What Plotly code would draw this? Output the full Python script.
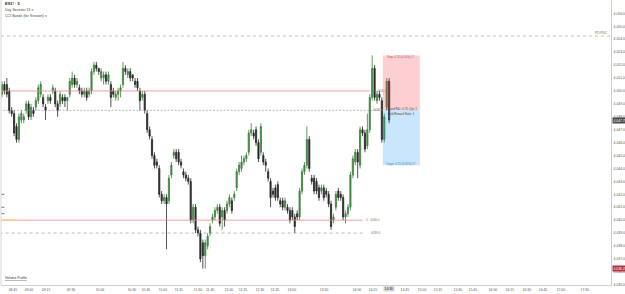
import plotly.graph_objects as go

# ---------------- data ----------------
opens = [4049.75,4050.5,4050.5,4050.0,4048.5,4048.25,4047.25,4046.25,4047.75,4047.75,
         4048.5,4049.0,4048.0,4048.5,4048.75,4049.25,4049.75,4049.5,4048.75,4049.25,
         4049.5,4050.0,4050.0,4049.0,4049.0,4049.5,4049.5,4049.25,4049.75,4050.5,
         4051.0,4050.5,4050.25,4050.0,4049.75,4050.0,4049.75,4050.0,4051.5,4052.0,
         4051.75,4051.0,4051.0,4051.25,4050.75,4050.5,4050.0,4049.5,4049.75,4050.0,
         4050.5,4051.75,4051.25,4051.5,4051.25,4050.75,4050.75,4050.0,4049.5,4049.75,
         4048.25,4047.0,4046.25,4045.0,4044.5,4044.0,4042.0,4041.5,4041.75,4041.5,
         4043.5,4045.0,4045.25,4045.25,4044.5,4043.75,4043.5,4043.25,4043.0,4040.0,
         4041.0,4039.25,4039.0,4038.25,4037.25,4038.0,4039.0,4040.0,4040.25,4040.75,
         4041.0,4040.25,4040.75,4040.75,4041.25,4041.5,4041.75,4042.5,4043.75,4044.0,
         4044.5,4044.75,4045.25,4046.75,4046.75,4047.0,4046.0,4045.25,4045.0,4044.5,
         4043.75,4043.0,4042.25,4042.5,4042.75,4041.5,4041.5,4041.0,4041.0,4040.75,
         4040.75,4040.25,4040.5,4040.25,4042.25,4043.75,4044.25,4046.25,4043.25,4043.25,
         4043.0,4042.5,4042.25,4042.5,4042.25,4042.0,4041.25,4040.0,4041.0,4042.25,
         4042.0,4041.75,4040.25,4040.5,4041.0,4043.5,4044.5,4045.25,4044.25,4047.0,
         4046.75,4045.75,4047.0,4049.5,4051.75,4049.25,4049.75,4049.25,4046.25,4048.75,
         4050.75]
highs = [4050.75,4050.75,4051.0,4050.25,4048.75,4048.5,4047.5,4048.25,4048.5,4048.25,
         4049.25,4049.25,4049.0,4048.75,4049.5,4050.5,4050.75,4049.75,4049.0,4049.75,
         4049.75,4050.5,4050.25,4049.25,4050.0,4049.75,4049.75,4049.5,4051.0,4051.5,
         4051.25,4051.0,4050.5,4050.25,4050.25,4050.25,4050.25,4051.75,4052.25,4052.25,
         4051.75,4051.75,4051.5,4051.5,4051.5,4050.75,4050.25,4050.0,4050.25,4050.5,
         4052.25,4052.0,4051.75,4051.75,4051.25,4051.0,4051.0,4050.25,4050.0,4050.0,
         4048.5,4047.25,4046.5,4045.25,4044.75,4044.25,4042.25,4042.0,4042.0,4043.5,
         4044.5,4045.5,4045.5,4045.5,4044.75,4044.0,4043.75,4043.5,4043.25,4041.25,
         4041.25,4039.5,4039.25,4038.5,4038.5,4039.0,4039.75,4040.5,4041.0,4041.25,
         4041.25,4041.0,4041.0,4041.5,4042.0,4041.75,4042.25,4044.0,4044.5,4045.0,
         4045.0,4045.25,4047.0,4047.5,4047.0,4047.25,4046.25,4047.5,4045.25,4044.75,
         4044.0,4043.25,4042.5,4042.75,4043.0,4041.75,4041.75,4041.75,4041.25,4041.0,
         4041.0,4040.5,4040.75,4042.5,4044.0,4044.5,4047.25,4046.5,4043.5,4043.5,
         4043.25,4042.75,4042.75,4042.75,4042.5,4042.25,4041.5,4040.5,4042.25,4042.5,
         4042.25,4042.0,4040.75,4041.25,4043.75,4045.0,4045.5,4045.5,4047.25,4047.25,
         4047.0,4048.25,4049.75,4052.75,4052.0,4050.0,4050.0,4049.5,4048.25,4051.0,
         4051.0]
lows = [4049.5,4049.75,4049.5,4048.25,4048.0,4046.5,4046.0,4046.0,4047.5,4047.5,
        4048.25,4047.75,4047.75,4048.0,4048.5,4049.0,4049.5,4048.75,4047.75,4049.0,
        4049.0,4049.75,4048.75,4048.0,4048.75,4049.0,4048.75,4048.5,4049.5,4050.25,
        4050.25,4050.25,4049.75,4049.5,4049.5,4049.25,4049.5,4049.75,4051.25,4051.5,
        4051.25,4050.75,4050.5,4050.5,4050.5,4048.75,4049.5,4049.25,4049.25,4049.5,
        4050.25,4051.25,4051.0,4050.75,4050.75,4050.25,4050.0,4048.5,4049.25,4048.25,
        4046.75,4046.25,4044.75,4044.0,4044.0,4041.75,4041.25,4041.25,4037.75,4041.25,
        4043.25,4044.75,4044.5,4044.25,4044.0,4043.25,4043.0,4042.75,4039.75,4039.75,
        4039.0,4038.75,4036.75,4036.25,4036.25,4037.75,4038.75,4039.75,4040.0,4040.5,
        4039.5,4039.25,4039.5,4040.5,4041.0,4040.5,4041.5,4042.25,4043.5,4043.75,
        4044.25,4044.5,4045.0,4046.5,4046.25,4045.75,4044.5,4045.0,4044.25,4043.75,
        4043.0,4041.0,4041.75,4041.5,4041.5,4041.0,4040.75,4040.75,4040.5,4039.75,
        4040.0,4039.0,4040.0,4040.0,4042.0,4043.5,4044.0,4043.75,4042.75,4042.0,
        4042.0,4041.5,4042.0,4041.5,4041.75,4041.0,4039.25,4039.75,4040.75,4041.5,
        4041.5,4040.0,4039.75,4040.25,4040.75,4043.25,4044.25,4043.25,4044.0,4046.5,
        4045.25,4045.5,4046.75,4049.25,4049.25,4049.0,4049.25,4046.0,4046.0,4048.5,
        4047.5]
closes = [4050.5,4050.0,4049.75,4048.5,4048.25,4046.75,4046.25,4048.0,4048.25,4048.0,
          4049.0,4048.0,4048.75,4048.25,4049.25,4050.25,4050.5,4049.0,4048.5,4049.5,
          4049.25,4050.25,4049.0,4048.5,4049.75,4049.25,4049.25,4049.5,4050.75,4051.0,
          4050.5,4050.75,4050.0,4049.75,4050.0,4049.5,4050.0,4051.5,4052.0,4051.75,
          4051.5,4051.5,4051.25,4050.75,4051.25,4049.5,4049.75,4049.75,4050.0,4050.25,
          4051.75,4051.5,4051.5,4051.0,4051.0,4050.5,4050.25,4049.25,4049.75,4048.5,
          4047.0,4046.5,4045.0,4044.25,4044.25,4042.0,4041.5,4041.75,4041.25,4043.25,
          4044.25,4045.25,4044.75,4044.5,4044.25,4043.5,4043.25,4043.0,4040.0,4041.0,
          4039.25,4039.0,4037.0,4037.25,4038.25,4038.75,4039.5,4040.25,4040.75,4041.0,
          4039.75,4040.75,4040.0,4041.25,4041.75,4040.75,4042.0,4043.75,4044.25,4044.5,
          4044.75,4045.0,4046.75,4047.0,4046.5,4046.0,4044.75,4047.25,4044.5,4044.25,
          4043.25,4041.75,4042.0,4041.75,4041.75,4041.25,4041.0,4041.5,4040.75,4040.0,
          4040.25,4039.5,4040.25,4042.25,4043.75,4044.25,4046.25,4044.0,4043.0,4042.25,
          4042.25,4041.75,4042.5,4041.75,4042.0,4041.25,4039.5,4040.25,4042.0,4041.75,
          4041.75,4040.25,4040.5,4041.0,4043.5,4044.75,4045.25,4044.5,4047.0,4046.75,
          4045.5,4047.0,4049.5,4051.75,4049.5,4049.75,4049.5,4046.25,4048.0,4050.75,
          4047.75]
bars = list(range(len(closes)))

price_ticks = [4057, 4056, 4055, 4054, 4053, 4052, 4051, 4050, 4049, 4048, 4047, 4046,
               4045, 4044, 4043, 4042, 4041, 4040, 4039, 4038, 4037, 4036, 4035]

time_tick_bars = [4.5, 11.2, 18.2, 28.5, 40.5, 53.7, 59.5, 66.5, 73.1, 81.0, 86.0, 93.8,
                  99.6, 106.6, 112.8, 119.8, 133.1, 146.7, 153.3, 166.5, 173.6, 180.2,
                  188.4, 194.6, 202.9, 209.9, 216.9, 223.6, 231.0, 240.9]
time_tick_labels = ["08:45", "09:00", "09:15", "09:30", "10:00", "10:30", "10:45", "11:00",
                    "11:15", "11:30", "11:45", "12:00", "12:15", "12:30", "12:45", "13:00",
                    "13:30", "14:00", "14:15", "14:45", "15:00", "15:15", "15:30", "15:45",
                    "16:00", "16:15", "16:30", "16:45", "17:00", "17:30"]
current_time_label = "14:30"

# horizontal levels
pd_close = 4054.25
upper_red_level, upper_red_end = 4050.0, 152
entry_level, entry_end = 4048.5, 157.4
lower_red_level, lower_red_end = 4040.0, 149
lower_dash_level, lower_dash_end = 4039.0, 150
stop_level, target_level = 4052.75, 4044.25
box_start, box_end = 157.4, 172.7
marker_price = 4036.25
left_marks = [4042.0, 4041.0, 4040.5]

# ---------------- figure ----------------
fig = go.Figure()
fig.add_trace(go.Candlestick(
    x=bars, open=opens, high=highs, low=lows, close=closes,
    increasing=dict(line=dict(color="#3b7f3b", width=0.8), fillcolor="#4a9647"),
    decreasing=dict(line=dict(color="#262626", width=0.8), fillcolor="#2b2b2b"),
    whiskerwidth=0, showlegend=False, hoverinfo="skip"))

shapes = []
def hline(y, x0, x1, color, dash="solid", width=0.7, xref="x"):
    shapes.append(dict(type="line", xref=xref, yref="y", x0=x0, x1=x1, y0=y, y1=y,
                       line=dict(color=color, width=width, dash=dash)))

hline(pd_close, 0, 1, "#a8a8a8", "dot", 0.7, xref="x domain")
hline(upper_red_level, -1, upper_red_end, "#e88a8a", "solid", 0.8)
hline(entry_level, -1, entry_end, "#8a8a8a", "2px,1.5px", 0.6)
hline(lower_red_level, -1, lower_red_end, "#e88a8a", "solid", 0.8)
hline(lower_dash_level, -1, lower_dash_end, "#8a8a8a", "dot", 0.6)
shapes.append(dict(type="line", xref="x", yref="y", x0=-1, x1=6, y0=lower_red_level,
                   y1=lower_red_level, line=dict(color="#f3d36b", width=1.2)))
for lm in left_marks:
    shapes.append(dict(type="line", xref="x", yref="y", x0=-1, x1=1, y0=lm, y1=lm,
                       line=dict(color="#555555", width=0.8)))
shapes.append(dict(type="rect", xref="x", yref="y", x0=box_start, x1=box_end,
                   y0=entry_level, y1=stop_level, fillcolor="rgba(242,54,69,0.24)",
                   line=dict(width=0), layer="above"))
shapes.append(dict(type="rect", xref="x", yref="y", x0=box_start, x1=box_end,
                   y0=target_level, y1=entry_level, fillcolor="rgba(33,150,243,0.24)",
                   line=dict(width=0), layer="above"))
shapes.append(dict(type="line", xref="paper", yref="paper", x0=0, x1=0, y0=0, y1=1,
                   line=dict(color="#d6d6d6", width=1)))

F = "Liberation Sans"
ann = []
def txt(x, y, s, size=3.2, color="#555555", xref="x", yref="y", xanchor="left",
        bg=None, yanchor="middle"):
    d = dict(x=x, y=y, xref=xref, yref=yref, text=s, showarrow=False, xanchor=xanchor,
             yanchor=yanchor, font=dict(family=F, size=size, color=color))
    if bg:
        d.update(bgcolor=bg, borderpad=0.6)
    ann.append(d)

# header
txt(0.003, 0.987, "<b>ES1! · 5</b>", 4, "#222222", "paper", "paper")
txt(0.003, 0.965, "Day Session 13 <span style='color:#888'>●</span>", 3.6, "#444444", "paper", "paper")
txt(0.003, 0.944, "CCI Bands (for Session) <span style='color:#888'>●</span>", 3.6, "#444444", "paper", "paper")
txt(0.003, 0.01, "<u>Volume Profile</u>", 3.4, "#333333", "paper", "paper", yanchor="bottom")

# line labels
txt(0.998, pd_close + 0.25, "PD PDC", 3.2, "#666666", "paper", "y", xanchor="right")
txt(upper_red_end + 0.5, upper_red_level, "0 · 4050.0", 3.0, "#777777")
txt(entry_end - 5, entry_level, "4048.5", 3.0, "#777777")
txt(lower_red_end + 0.8, lower_red_level, "0 · 4040.0", 3.0, "#777777")
txt(lower_dash_end + 1.5, lower_dash_level, "4039.0", 3.0, "#777777")

# position box text
mid = (box_start + box_end) / 2
txt(mid, stop_level - 0.12, "Stop: 4.25 (0.10%) 17", 2.8, "#c94a4a", xanchor="center")
txt(mid, entry_level + 0.12, "Closed P&L: 0.75, Qty: 1", 2.8, "#444444", xanchor="center")
txt(mid, entry_level - 0.25, "Risk/Reward Ratio: 1", 2.8, "#444444", xanchor="center")
txt(mid, target_level + 0.12, "Target: 4.25 (0.10%) 17", 2.8, "#2f7fd0", xanchor="center")

# axis highlights
txt(1.002, closes[-1], f"{closes[-1]:,.2f}", 3.3, "#ffffff", "paper", "y", bg="#4a4a4a")
txt(1.002, marker_price, f"{marker_price:,.2f}", 3.3, "#ffffff", "paper", "y", bg="#b0303a")
txt(bars[-1], -0.013, current_time_label, 3.3, "#222222", "x", "paper", xanchor="center",
    bg="#d8d8d8", yanchor="middle")

fig.update_layout(
    width=625, height=294, autosize=False,
    margin=dict(l=1, r=14, t=0, b=9),
    paper_bgcolor="white", plot_bgcolor="white",
    shapes=shapes, annotations=ann, showlegend=False,
    font=dict(family=F, size=3.4, color="#555555"),
    xaxis=dict(range=[-0.41, 251.7], rangeslider=dict(visible=False), showgrid=False,
               zeroline=False, showline=True, linecolor="#cfcfcf", linewidth=0.8,
               tickmode="array", tickvals=time_tick_bars, ticktext=time_tick_labels,
               ticks="", tickfont=dict(size=3.4, color="#555555"), ticklabelstandoff=1),
    yaxis=dict(range=[4034.98, 4057.04], side="right", showgrid=False, zeroline=False,
               showline=True, linecolor="#cfcfcf", linewidth=0.8, tickmode="array",
               tickvals=price_ticks, ticktext=[f"{v:,.1f}" for v in price_ticks],
               ticks="", tickfont=dict(size=3.4, color="#555555"), ticklabelstandoff=1),
)

fig.write_html("out.html")
